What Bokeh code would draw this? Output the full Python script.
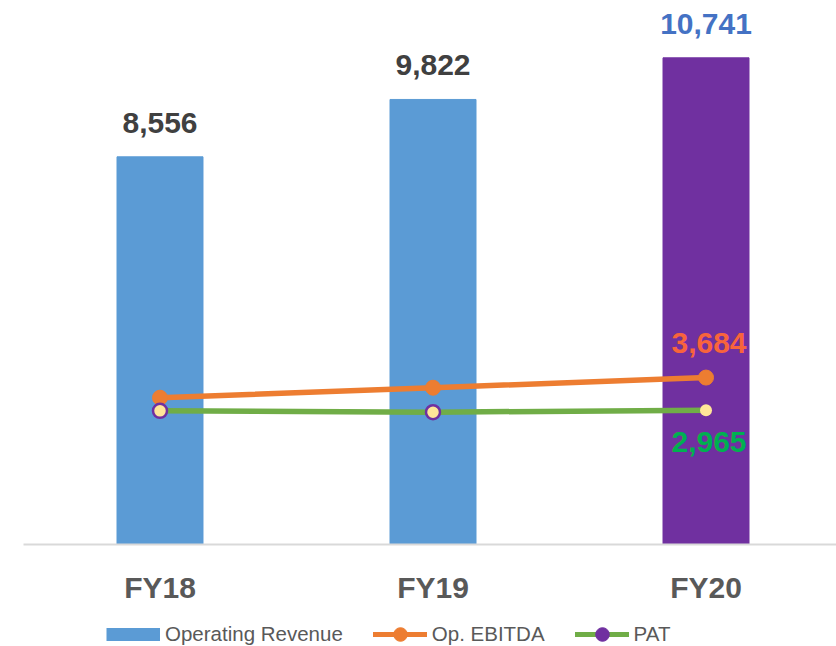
from bokeh.plotting import figure
from bokeh.layouts import column
from bokeh.models import ColumnDataSource, FixedTicker, Range1d, Legend, LegendItem
from bokeh.core.properties import value
from bokeh.embed import file_html
from bokeh.resources import INLINE

categories = ["FY18", "FY19", "FY20"]
revenue = [8556, 9822, 10741]
ebitda = [3240, 3460, 3684]
pat = [2950, 2920, 2965]
legend_labels = ["Operating Revenue", "Op. EBITDA", "PAT"]

FONT = "Liberation Sans"
bar_colors = ["#5B9BD5", "#5B9BD5", "#7030A0"]
rev_label_colors = ["#404040", "#404040", "#4472C4"]
ORANGE, GREEN, PURPLE, BLUE = "#ED7D31", "#70AD47", "#7030A0", "#5B9BD5"

idx = list(range(len(categories)))

p = figure(width=836, height=606, output_backend="svg", toolbar_location=None,
           x_range=Range1d(-0.5, 2.478), y_range=Range1d(0, 12006),
           y_axis_location=None, min_border_left=23, min_border_right=0,
           min_border_top=0, min_border_bottom=62)
p.outline_line_color = None
p.grid.visible = False

src = ColumnDataSource(dict(x=idx, rev=revenue, eb=ebitda, pat=pat, color=bar_colors,
                            rev_lbl=[f"{v:,}" for v in revenue], rev_col=rev_label_colors))
p.vbar(x="x", top="rev", width=0.315, color="color", source=src)

p.line("x", "eb", source=src, line_color=ORANGE, line_width=5.5)
p.scatter("x", "eb", source=src, size=15, fill_color=ORANGE, line_color=ORANGE)
p.line("x", "pat", source=src, line_color=GREEN, line_width=5.5)

pat_src = ColumnDataSource(dict(x=idx[:2], y=pat[:2]))
p.scatter("x", "y", source=pat_src, size=14, fill_color="#FFE699", line_color=PURPLE, line_width=2.5)
pat_last = ColumnDataSource(dict(x=idx[2:], y=pat[2:]))
p.scatter("x", "y", source=pat_last, size=12, fill_color="#FFE699", line_color=None)

# data labels
p.text("x", "rev", text="rev_lbl", source=src, text_color="rev_col", text_align="center",
       text_baseline="middle", y_offset=-34, text_font=value(FONT), text_font_style="bold",
       text_font_size="30px")
last = ColumnDataSource(dict(x=idx[2:], eb=ebitda[2:], pat=pat[2:],
                             eb_lbl=[f"{v:,}" for v in ebitda[2:]], pat_lbl=[f"{v:,}" for v in pat[2:]]))
p.text("x", "eb", text="eb_lbl", source=last, text_color="#F8643C", text_align="center",
       text_baseline="middle", y_offset=-35, x_offset=3, text_font=value(FONT), text_font_style="bold",
       text_font_size="30px")
p.text("x", "pat", text="pat_lbl", source=last, text_color="#00B050", text_align="center",
       text_baseline="middle", y_offset=32, x_offset=3, text_font=value(FONT), text_font_style="bold",
       text_font_size="30px")

ax = p.xaxis[0]
ax.ticker = FixedTicker(ticks=idx)
ax.major_label_overrides = {i: c for i, c in zip(idx, categories)}
ax.axis_line_color = "#D9D9D9"
ax.axis_line_width = 2
ax.major_tick_line_color = None
ax.minor_tick_line_color = None
ax.major_label_standoff = 20
ax.major_label_text_font = FONT
ax.major_label_text_font_style = "bold"
ax.major_label_text_font_size = "30px"
ax.major_label_text_color = "#595959"

# legend strip (separate small figure so the legend is not clipped)
lg = figure(width=836, height=40, output_backend="svg", toolbar_location=None,
            x_range=Range1d(0, 1), y_range=Range1d(0, 1),
            x_axis_location=None, y_axis_location=None,
            min_border_left=0, min_border_right=0, min_border_top=0, min_border_bottom=0)
lg.outline_line_color = None
lg.grid.visible = False
nan = float("nan")
def ph():
    return ColumnDataSource(dict(x=[nan], y=[nan]))
lg_rev = lg.line("x", "y", source=ph(), line_color=BLUE, line_width=13, line_cap="butt")
lg_eb_l = lg.line("x", "y", source=ph(), line_color=ORANGE, line_width=5, line_cap="round")
lg_eb_m = lg.scatter("x", "y", source=ph(), fill_color=ORANGE, line_color=ORANGE)
lg_pat_l = lg.line("x", "y", source=ph(), line_color=GREEN, line_width=5, line_cap="round")
lg_pat_m = lg.scatter("x", "y", source=ph(), fill_color=PURPLE, line_color=PURPLE)

legend = Legend(items=[
    LegendItem(label=legend_labels[0], renderers=[lg_rev]),
    LegendItem(label=legend_labels[1], renderers=[lg_eb_l, lg_eb_m]),
    LegendItem(label=legend_labels[2], renderers=[lg_pat_l, lg_pat_m]),
], orientation="horizontal", location=(83, -5), glyph_width=54, glyph_height=34,
    label_standoff=5, spacing=30, padding=0, margin=0, border_line_color=None,
    background_fill_alpha=0, label_text_font=FONT, label_text_font_size="20.5px",
    label_text_color="#595959")
lg.add_layout(legend, "center")

layout = column(p, lg, spacing=0)
open("out.html", "w").write(file_html(layout, INLINE))
